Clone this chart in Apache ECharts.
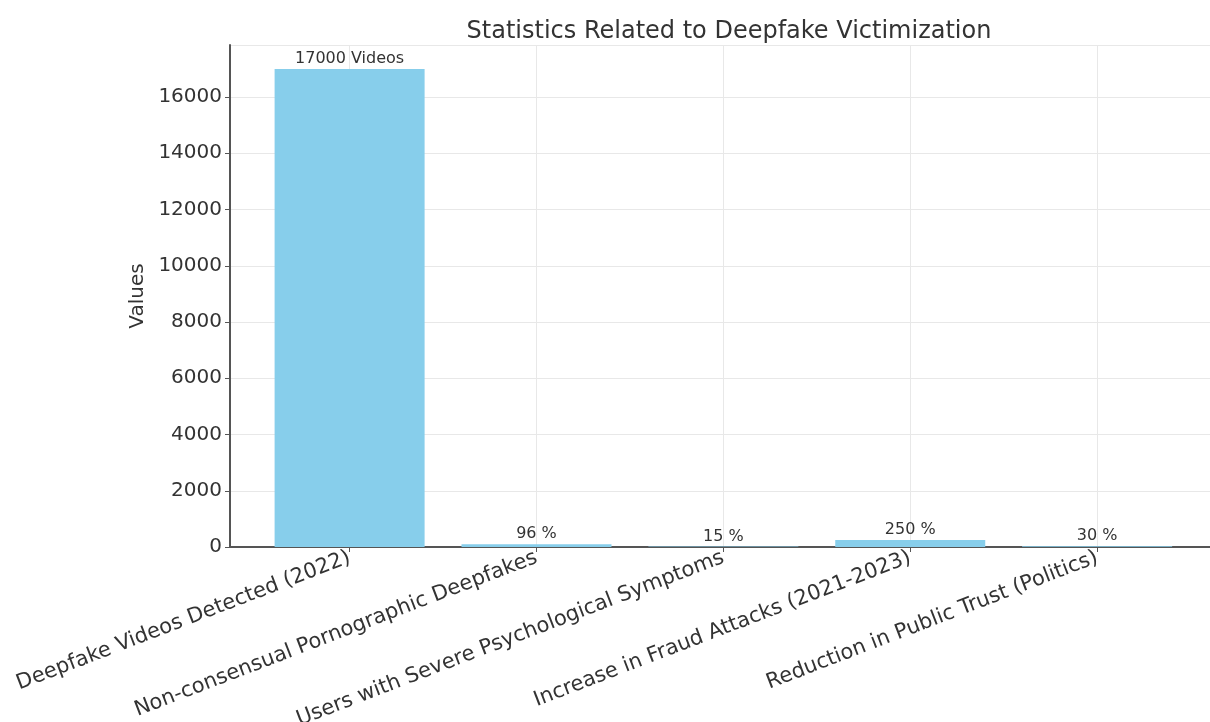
<!DOCTYPE html>
<html>
<head>
<meta charset="utf-8">
<script src="https://cdn.jsdelivr.net/npm/echarts@6/dist/echarts.min.js"></script>
<style>
  html, body { margin: 0; padding: 0; background: #fff; }
  #chart { width: 1210px; height: 722px; }
</style>
</head>
<body>
<div id="chart"></div>
<script>
// data
const categories = [
  'Deepfake Videos Detected (2022)',
  'Non-consensual Pornographic Deepfakes',
  'Users with Severe Psychological Symptoms',
  'Increase in Fraud Attacks (2021-2023)',
  'Reduction in Public Trust (Politics)'
];
const values = [17000, 96, 15, 250, 30];
const units = ['Videos', '%', '%', '%', '%'];
const yTicks = [0, 2000, 4000, 6000, 8000, 10000, 12000, 14000, 16000];

const positions = categories.map(function (c, i) { return i; });

const chart = echarts.init(document.getElementById('chart'));

const option = {
  animation: false,
  textStyle: { fontFamily: 'DejaVu Sans' },
  title: {
    text: 'Statistics Related to Deepfake Victimization',
    left: 724,
    top: 15,
    textAlign: 'center',
    textStyle: { fontSize: 24, fontWeight: 'normal', color: '#333', fontFamily: 'DejaVu Sans' }
  },
  grid: { left: 230, right: 0, top: 45, bottom: 175, outerBoundsMode: 'none', containLabel: false },
  xAxis: {
    type: 'value',
    min: -0.64,
    max: 4.604,
    axisLine: { show: true, onZero: false, lineStyle: { color: '#555', width: 2 } },
    axisTick: {
      show: true, customValues: positions, length: 5, inside: false,
      lineStyle: { color: '#555' }
    },
    axisLabel: {
      customValues: positions,
      rotate: 21,
      fontSize: 21,
      color: '#333',
      margin: 10,
      formatter: function (v) { return categories[Math.round(v)]; }
    },
    splitLine: { show: false }
  },
  yAxis: {
    type: 'value',
    min: 0,
    max: 17850,
    interval: 2000,
    name: 'Values',
    nameLocation: 'middle',
    nameGap: 82,
    nameTextStyle: { fontSize: 20, color: '#333' },
    axisLine: { show: true, onZero: false, lineStyle: { color: '#555', width: 2 } },
    axisTick: { show: true, length: 5, lineStyle: { color: '#555' } },
    axisLabel: {
      fontSize: 20, color: '#333', margin: 8, showMaxLabel: false,
      formatter: function (v) { return yTicks.indexOf(v) >= 0 ? String(v) : ''; }
    },
    splitLine: { show: true, lineStyle: { color: '#e8e8e8', width: 1 } }
  },
  series: [{
    type: 'bar',
    barWidth: 150,
    itemStyle: { color: '#87CEEB' },
    data: values.map(function (v, i) { return [positions[i], v]; }),
    label: {
      show: true,
      position: 'top',
      distance: 2,
      fontSize: 16,
      color: '#333',
      formatter: function (p) { return values[p.dataIndex] + ' ' + units[p.dataIndex]; }
    },
    markLine: {
      silent: true,
      symbol: 'none',
      label: { show: false },
      z: 0,
      lineStyle: { color: '#e8e8e8', type: 'solid', width: 1 },
      data: positions.map(function (x) { return { xAxis: x }; })
    },
    z: 2
  }]
};

chart.setOption(option);
</script>
</body>
</html>
